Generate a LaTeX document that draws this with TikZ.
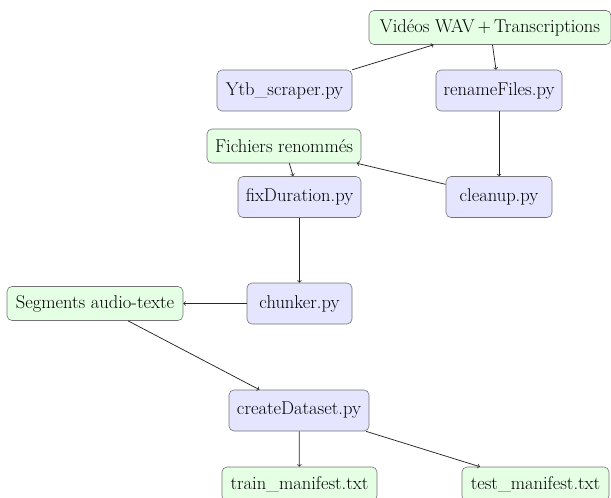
\documentclass[tikz,border=0pt]{standalone}
\begin{document}
\begin{tikzpicture}[x=1pt,y=-1pt,
  every node/.style={font=\fontsize{18.5}{22}\selectfont},
  base/.style={draw=black!55, line width=0.6pt, rounded corners=5pt, inner sep=0pt, align=center},
  prog/.style={base, fill=blue!10, minimum height=41pt},
  data/.style={base, fill=green!10, minimum height=34pt},
  conn/.style={->, line width=0.75pt, black!85}]
\useasboundingbox (0,0) rectangle (611,498);
\node[data, minimum width=242pt] (videos) at (490,27.5) {Vidéos WAV\,+\,Transcriptions};
\node[prog, minimum width=135pt] (ytb) at (284.5,90.5) {Ytb\_scraper.py};
\node[prog, minimum width=126pt] (rename) at (499,90.5) {renameFiles.py};
\node[data, minimum width=154pt] (fichiers) at (284,146) {Fichiers renommés};
\node[prog, minimum width=123pt] (fix) at (299.5,197) {fixDuration.py};
\node[prog, minimum width=106pt] (cleanup) at (499,197) {cleanup.py};
\node[prog, minimum width=105pt] (chunker) at (299.5,303.5) {chunker.py};
\node[data, minimum width=176pt] (segments) at (95,303.5) {Segments audio-texte};
\node[prog, minimum width=140pt] (create) at (299,410.5) {createDataset.py};
\node[data, minimum width=155pt] (train) at (299.5,484) {train\_manifest.txt};
\node[data, minimum width=147pt] (test) at (535.5,484) {test\_manifest.txt};
\draw[conn] (ytb) -- (videos);
\draw[conn] (videos) -- (rename);
\draw[conn] (rename) -- (cleanup);
\draw[conn] (cleanup) -- (fichiers);
\draw[conn] (fichiers) -- (fix);
\draw[conn] (fix) -- (chunker);
\draw[conn] (chunker) -- (segments);
\draw[conn] (segments) -- (create);
\draw[conn] (create) -- (train);
\draw[conn] (create) -- (test);
\end{tikzpicture}
\end{document}
